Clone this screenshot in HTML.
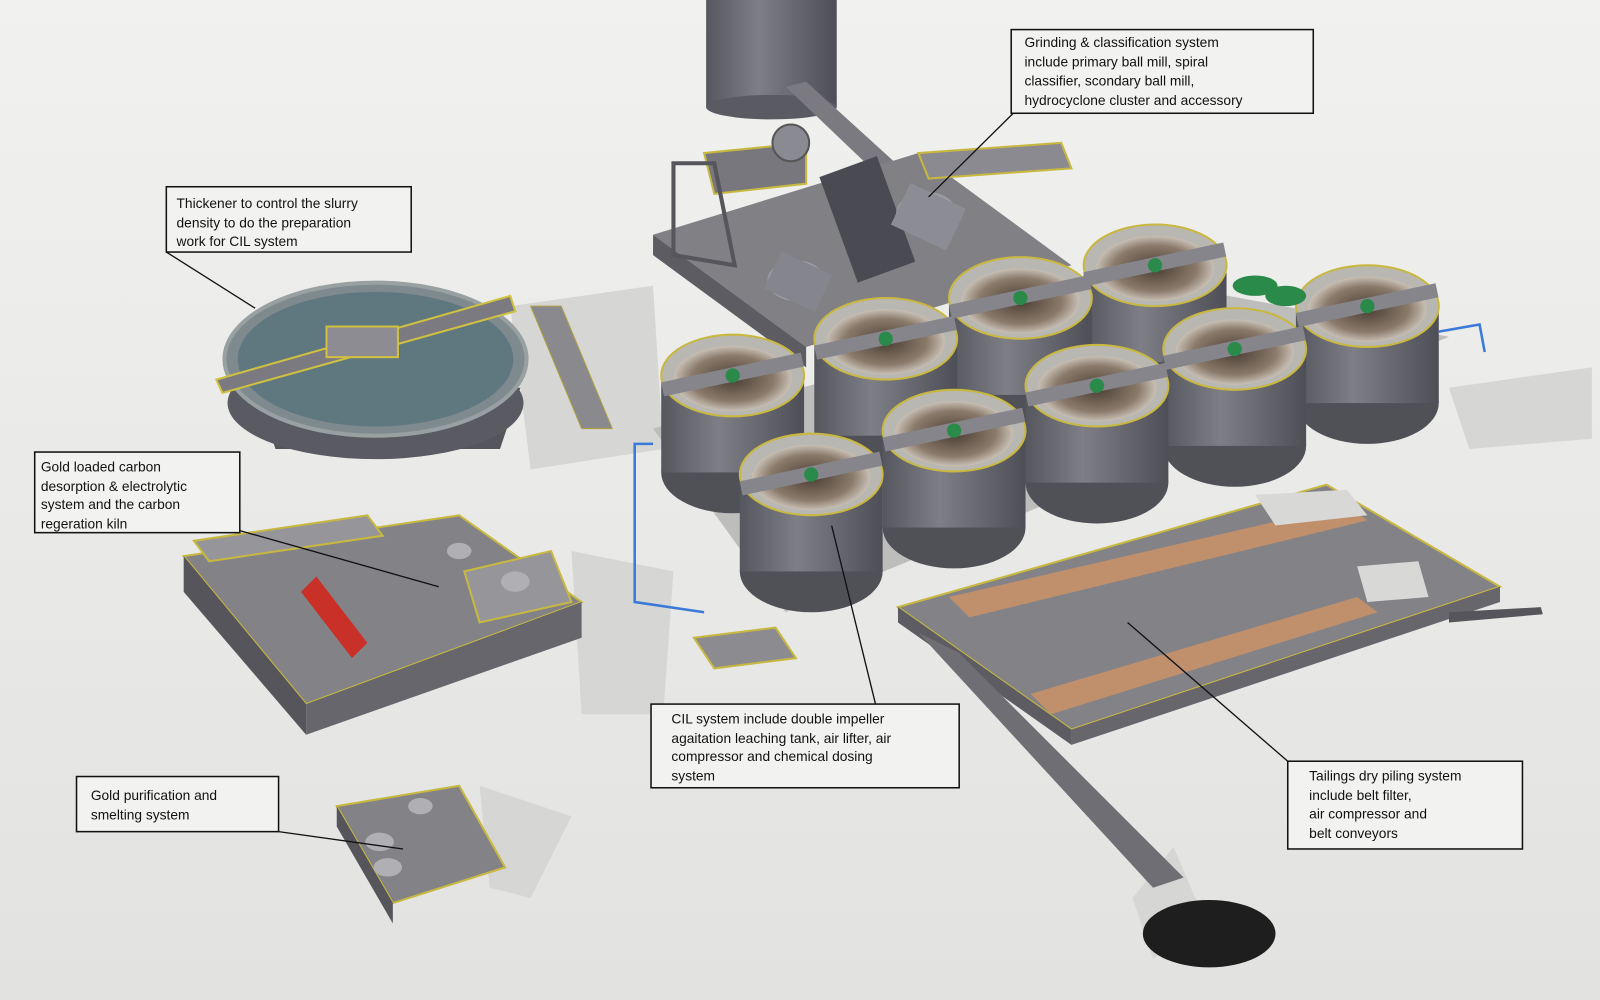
<!DOCTYPE html>
<html><head><meta charset="utf-8"><style>
html,body{margin:0;padding:0;width:1600px;height:1000px;overflow:hidden;background:#e9e9e7}
svg{display:block}
text{font-family:"Liberation Sans",sans-serif;font-size:13.5px;fill:#111}
</style></head><body>
<svg width="1600" height="1000" viewBox="0 0 1568 980" preserveAspectRatio="none" xmlns="http://www.w3.org/2000/svg">
<defs>
<linearGradient id="bg" x1="0" y1="0" x2="0" y2="1"><stop offset="0" stop-color="#f1f1ef"/><stop offset="1" stop-color="#e2e2e0"/></linearGradient>
<linearGradient id="cyl" x1="0" y1="0" x2="1" y2="0"><stop offset="0" stop-color="#56565e"/><stop offset="0.4" stop-color="#7e7e86"/><stop offset="1" stop-color="#4e4e56"/></linearGradient>
<radialGradient id="tk" cx="0.5" cy="0.5" r="0.5"><stop offset="0" stop-color="#4a3e34"/><stop offset="0.7" stop-color="#8a7a6a"/><stop offset="1" stop-color="#c8bfb4"/></radialGradient>
<g id="tank"><ellipse cx="0" cy="95" rx="70" ry="40" fill="#505057"/><rect x="-70" y="0" width="140" height="95" fill="url(#cyl)"/><ellipse cx="0" cy="0" rx="70" ry="40" fill="#b9b7b2" stroke="#c8b840" stroke-width="2"/><ellipse cx="0" cy="3" rx="58" ry="32" fill="url(#tk)"/><rect x="-70" y="-8" width="140" height="14" fill="#85858b" transform="rotate(-12)"/><circle cx="0" cy="0" r="7" fill="#2a8a4a"/></g>
</defs>
<rect width="1568" height="980" fill="url(#bg)"/>
<g fill="#d6d6d4">
<polygon points="500,300 640,280 650,440 520,460"/>
<polygon points="560,540 660,560 650,700 570,700"/>
<polygon points="470,770 560,800 520,880 480,870"/>
<polygon points="1420,380 1560,360 1560,430 1440,440"/>
<polygon points="1150,830 1180,900 1130,940 1110,880"/>
</g>
<rect x="692" y="0" width="128" height="105" fill="url(#cyl)"/><ellipse cx="756" cy="105" rx="64" ry="12" fill="#5a5a62"/>
<polygon points="770,85 790,80 900,180 880,190" fill="#7a7a80"/>
<polygon points="640,230 900,150 1050,260 790,340" fill="#808085"/>
<polygon points="640,230 790,340 790,360 640,250" fill="#5c5c62"/>
<polygon points="690,150 790,140 790,180 700,190" fill="#77777d" stroke="#c8b840" stroke-width="2"/>
<polygon points="660,160 700,160 720,260 660,250" fill="none" stroke="#55555b" stroke-width="4"/>
<polygon points="900,150 1040,140 1050,165 910,175" fill="#8a8a90" stroke="#c8b840" stroke-width="2"/>
<rect x="820" y="160" width="60" height="110" fill="#4a4a52" transform="rotate(-20 850 215)"/>
<ellipse cx="908" cy="210" rx="30" ry="22" fill="#9a9aa2"/><rect x="880" y="190" width="60" height="45" fill="#8c8c94" transform="rotate(25 910 212)"/>
<ellipse cx="780" cy="275" rx="28" ry="20" fill="#9a9aa2"/><rect x="755" y="255" width="55" height="40" fill="#85858d" transform="rotate(25 780 275)"/>
<circle cx="775" cy="140" r="18" fill="#8a8a92" stroke="#555" stroke-width="2"/>
<polygon points="250,380 510,380 490,440 270,440" fill="#55555c"/>
<ellipse cx="368" cy="395" rx="145" ry="55" fill="#5a5a62"/>
<ellipse cx="368" cy="352" rx="148" ry="75" fill="#7e8a8e" stroke="#98a0a2" stroke-width="4"/>
<ellipse cx="368" cy="352" rx="135" ry="66" fill="#5f7880"/>
<polygon points="212,372 500,290 505,305 218,385" fill="#7a7a80" stroke="#d0c040" stroke-width="2"/>
<rect x="320" y="320" width="70" height="30" fill="#8c8c92" stroke="#d0c040" stroke-width="2"/>
<polygon points="520,300 550,300 600,420 570,420" fill="#8a8a8e" stroke="#b0a040" stroke-width="1"/>
<polygon points="640,420 1150,280 1420,330 770,600" fill="#bdbdbc"/>
<use href="#tank" x="1132" y="260"/>
<use href="#tank" x="1340" y="300"/>
<use href="#tank" x="1000" y="292"/>
<use href="#tank" x="1210" y="342"/>
<use href="#tank" x="868" y="332"/>
<use href="#tank" x="1075" y="378"/>
<use href="#tank" x="718" y="368"/>
<use href="#tank" x="935" y="422"/>
<use href="#tank" x="795" y="465"/>
<g fill="#2a8a4a"><ellipse cx="1230" cy="280" rx="22" ry="10"/><ellipse cx="1260" cy="290" rx="20" ry="10"/></g>
<polyline points="640,435 622,435 622,590 690,600" fill="none" stroke="#3a7ad8" stroke-width="2.5"/>
<polyline points="1410,325 1450,318 1455,345" fill="none" stroke="#3a7ad8" stroke-width="2.5"/>
<polygon points="880,595 1300,475 1470,575 1050,715" fill="#838387" stroke="#c8b840" stroke-width="2"/>
<polygon points="880,595 1050,715 1050,730 880,610" fill="#5c5c62"/>
<polygon points="1050,715 1470,575 1470,590 1050,730" fill="#66666c"/>
<polygon points="930,585 1320,495 1340,510 950,605" fill="#c08f6c"/>
<polygon points="1010,680 1330,585 1350,600 1030,700" fill="#c08f6c"/>
<polygon points="1230,485 1320,480 1340,505 1250,515" fill="#d8d8d6"/>
<polygon points="1330,555 1390,550 1400,585 1340,590" fill="#d8d8d6"/>
<polygon points="900,620 940,640 1160,860 1130,870" fill="#6e6e74"/>
<polygon points="1420,600 1510,595 1512,602 1420,610" fill="#55555b"/>
<ellipse cx="1185" cy="915" rx="65" ry="33" fill="#1e1e1e"/>
<polygon points="180,545 450,505 570,590 300,690" fill="#838387" stroke="#c8b840" stroke-width="2"/>
<polygon points="180,545 300,690 300,720 180,580" fill="#55555b"/>
<polygon points="300,690 570,590 570,625 300,720" fill="#66666c"/>
<polygon points="190,530 360,505 375,525 205,550" fill="#96969a" stroke="#c8b840" stroke-width="2"/>
<polygon points="455,560 540,540 560,590 470,610" fill="#96969a" stroke="#c8b840" stroke-width="2"/>
<polygon points="295,580 310,565 360,630 345,645" fill="#c83028"/>
<ellipse cx="450" cy="540" rx="12" ry="8" fill="#b0b0b4"/><ellipse cx="505" cy="570" rx="14" ry="10" fill="#b0b0b4"/>
<polygon points="680,625 760,615 780,645 700,655" fill="#8c8c90" stroke="#c8b840" stroke-width="2"/>
<polygon points="330,790 450,770 495,850 385,885" fill="#838387" stroke="#c8b840" stroke-width="2"/>
<polygon points="330,790 385,885 385,905 330,810" fill="#55555b"/>
<ellipse cx="372" cy="825" rx="14" ry="9" fill="#b0b0b4"/><ellipse cx="380" cy="850" rx="14" ry="9" fill="#b0b0b4"/><ellipse cx="412" cy="790" rx="12" ry="8" fill="#b0b0b4"/>
<g stroke="#111" stroke-width="1.3" fill="none">
<line x1="993" y1="111" x2="910" y2="193"/>
<line x1="163" y1="247" x2="250" y2="302"/>
<line x1="235" y1="520" x2="430" y2="575"/>
<line x1="273" y1="815" x2="395" y2="832"/>
<line x1="858" y1="690" x2="815" y2="515"/>
<line x1="1262" y1="746" x2="1105" y2="610"/>
</g>
<g fill="#f2f2f0" stroke="#111" stroke-width="1.5">
<rect x="991" y="29" width="296" height="82"/>
<rect x="163" y="183" width="240" height="64"/>
<rect x="34" y="443" width="201" height="79"/>
<rect x="75" y="761" width="198" height="54"/>
<rect x="638" y="690" width="302" height="82"/>
<rect x="1262" y="746" width="230" height="86"/>
</g>
<text x="1004" y="46">Grinding &amp; classification system</text>
<text x="1004" y="65">include primary ball mill, spiral</text>
<text x="1004" y="84">classifier, scondary ball mill,</text>
<text x="1004" y="103">hydrocyclone cluster and  accessory</text>
<text x="173" y="204">Thickener to control the slurry</text>
<text x="173" y="223">density to do the preparation</text>
<text x="173" y="241">work for CIL system</text>
<text x="40" y="462">Gold loaded carbon</text>
<text x="40" y="481">desorption &amp; electrolytic</text>
<text x="40" y="499">system and the carbon</text>
<text x="40" y="518">regeration kiln</text>
<text x="89" y="784">Gold purification and</text>
<text x="89" y="803">smelting system</text>
<text x="658" y="709">CIL system include double impeller</text>
<text x="658" y="728">agaitation leaching tank, air lifter, air</text>
<text x="658" y="746">compressor and chemical dosing</text>
<text x="658" y="765">system</text>
<text x="1283" y="765">Tailings dry piling system</text>
<text x="1283" y="784">include belt filter,</text>
<text x="1283" y="802">air compressor and</text>
<text x="1283" y="821">belt conveyors</text>
</svg>
</body></html>
